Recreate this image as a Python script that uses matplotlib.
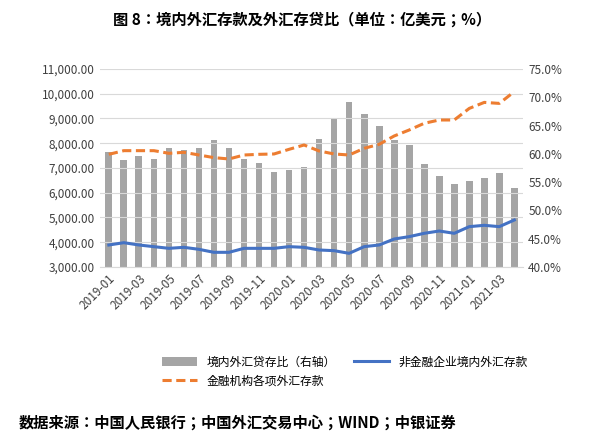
import matplotlib
matplotlib.use("Agg")
import matplotlib.pyplot as plt
from matplotlib.ticker import FuncFormatter

plt.rcParams['font.family'] = ['Noto Sans CJK JP', 'Noto Sans CJK SC', 'Noto Sans CJK TC', 'DejaVu Sans']

months = [f"{y}-{m:02d}" for y in (2019, 2020) for m in range(1, 13)] + [f"2021-{m:02d}" for m in range(1, 5)]
ratio = [60.3, 58.9, 59.6, 59.1, 61.0, 60.7, 61.0, 62.4, 61.0, 59.1, 58.4, 56.8, 57.1, 57.7,
         62.6, 66.2, 69.2, 67.1, 64.9, 62.4, 61.6, 58.2, 56.1, 54.7, 55.2, 55.7, 56.6, 54.0]
corp = [3889, 3982, 3889, 3822, 3754, 3795, 3714, 3593, 3593, 3754, 3754, 3754, 3822, 3795,
        3687, 3660, 3552, 3822, 3889, 4131, 4226, 4361, 4454, 4361, 4630, 4684, 4630, 4899]
inst = [7552, 7700, 7700, 7700, 7593, 7633, 7525, 7418, 7364, 7525, 7552, 7566, 7754, 7929,
        7687, 7566, 7525, 7794, 7956, 8293, 8535, 8805, 8939, 8939, 9407, 9650, 9609, 10084]

fig = plt.figure(figsize=(6.05, 4.45), dpi=100)
ax = fig.add_axes([0.165, 0.40, 0.70, 0.445])
ax2 = ax.twinx()
x = list(range(len(months)))
b = ax2.bar(x, ratio, width=0.45, color='#a5a5a5', label='境内外汇贷存比（右轴）', zorder=1)
ax2.set_ylim(40, 75)
ax2.set_yticks(range(40, 76, 5))
ax2.yaxis.set_major_formatter(FuncFormatter(lambda v, p: f"{v:.1f}%"))
ax.set_zorder(ax2.get_zorder() + 1)
ax.patch.set_visible(False)
l1, = ax.plot(x, corp, color='#4472c4', lw=2.2, label='非金融企业境内外汇存款')
l2, = ax.plot(x, inst, color='#ed7d31', lw=2.2, ls=(0, (3, 1.5)), label='金融机构各项外汇存款')
ax.set_ylim(3000, 11000)
ax.set_yticks(range(3000, 11001, 1000))
ax.yaxis.set_major_formatter(FuncFormatter(lambda v, p: f"{v:,.2f}"))
ax.set_xlim(-0.6, len(months) - 0.4)
ax.set_xticks(x[::2])
ax.set_xticklabels(months[::2], rotation=45, ha='right', rotation_mode='anchor')
ax.grid(axis='y', color='#d9d9d9', lw=0.8)
ax.set_axisbelow(True)
for a in (ax, ax2):
    for s in a.spines.values():
        s.set_visible(False)
    a.tick_params(length=0, labelsize=8.5, colors='#404040')
ax.spines['bottom'].set_visible(True)
ax.spines['bottom'].set_color('#d9d9d9')
fig.legend(handles=[b, l2, l1], loc='upper left', bbox_to_anchor=(0.25, 0.225), ncol=2,
           frameon=False, fontsize=8.5, handlelength=3, columnspacing=1.5)
fig.text(0.5, 0.955, '图 8：境内外汇存款及外汇存贷比（单位：亿美元；%）', ha='center', va='center',
         fontsize=11, fontweight='bold')
fig.text(0.03, 0.05, '数据来源：中国人民银行；中国外汇交易中心；WIND；中银证券', ha='left', va='center',
         fontsize=11, fontweight='bold')
fig.savefig('out.png', dpi=100)
